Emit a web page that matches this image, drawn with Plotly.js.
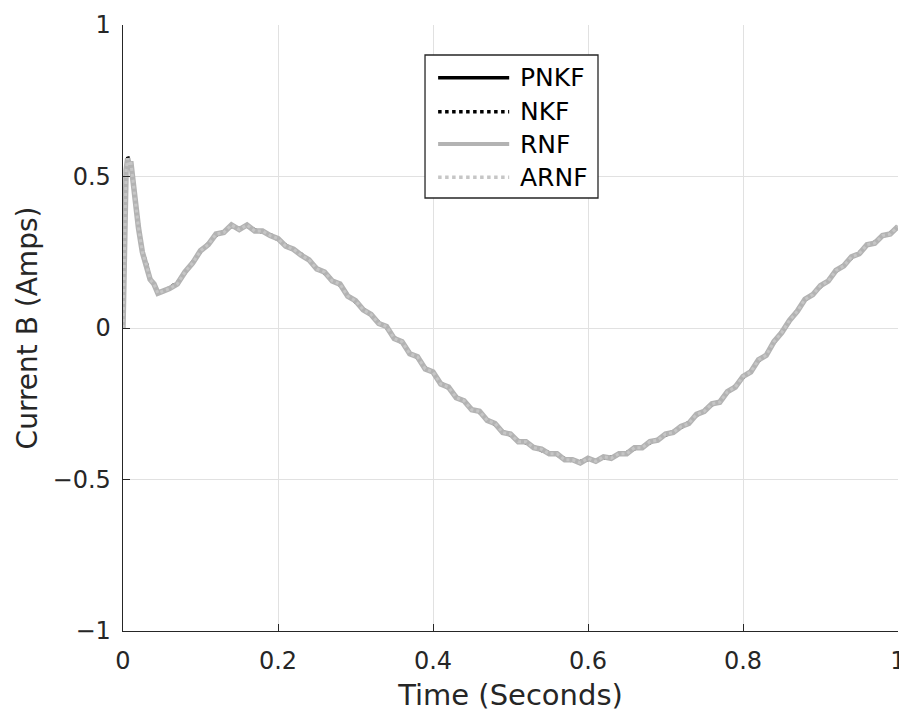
<!DOCTYPE html>
<html>
<head>
<meta charset="utf-8">
<script src="https://cdn.plot.ly/plotly-3.0.1.min.js"></script>
<style>html,body{margin:0;padding:0;background:#fff;}#chart{width:899px;height:720px;}</style>
</head>
<body>
<div id="chart"></div>
<script>
const timeSec = [0,0.002,0.004,0.006,0.008,0.01,0.015,0.02,0.025,0.03,0.035,0.04,0.045,0.05,0.055,0.06,
0.07,0.08,0.09,0.10,0.11,0.12,0.13,0.14,0.15,0.16,0.17,0.18,0.19,0.20,
0.21,0.22,0.23,0.24,0.25,0.26,0.27,0.28,0.29,0.30,0.31,0.32,0.33,0.34,0.35,0.36,0.37,0.38,0.39,0.40,
0.41,0.42,0.43,0.44,0.45,0.46,0.47,0.48,0.49,0.50,0.51,0.52,0.53,0.54,0.55,0.56,0.57,0.58,0.59,0.60,
0.61,0.62,0.63,0.64,0.65,0.66,0.67,0.68,0.69,0.70,0.71,0.72,0.73,0.74,0.75,0.76,0.77,0.78,0.79,0.80,
0.81,0.82,0.83,0.84,0.85,0.86,0.87,0.88,0.89,0.90,0.91,0.92,0.93,0.94,0.95,0.96,0.97,0.98,0.99,1.00];

const rnf = [0.00,0.31,0.52,0.56,0.54,0.55,0.43,0.33,0.25,0.21,0.16,0.145,0.115,0.12,0.125,0.13,
0.145,0.185,0.215,0.255,0.275,0.31,0.315,0.34,0.325,0.34,0.32,0.32,0.305,0.295,
0.27,0.26,0.24,0.225,0.195,0.185,0.155,0.145,0.105,0.09,0.06,0.045,0.015,0.005,-0.035,-0.045,-0.085,-0.095,-0.135,-0.145,
-0.185,-0.195,-0.23,-0.24,-0.27,-0.275,-0.305,-0.315,-0.345,-0.35,-0.375,-0.375,-0.395,-0.40,-0.415,-0.415,-0.435,-0.435,-0.445,-0.43,
-0.44,-0.425,-0.43,-0.415,-0.415,-0.395,-0.395,-0.375,-0.37,-0.35,-0.345,-0.325,-0.315,-0.285,-0.275,-0.25,-0.245,-0.21,-0.195,-0.16,
-0.145,-0.105,-0.09,-0.045,-0.015,0.025,0.055,0.095,0.11,0.14,0.155,0.19,0.205,0.235,0.245,0.275,0.28,0.305,0.31,0.335];

const pnkf = rnf.slice();
const arnf = rnf.slice();
const nkf = [0.00,0.30,0.51,0.57,0.55,0.54,0.44,0.34,0.25,0.22,0.16,0.15,0.11,0.125,0.12,0.135,
0.15,0.18,0.22,0.25,0.28,0.305,0.32,0.335,0.33,0.335,0.325,0.315,0.31,0.29,
0.275,0.255,0.245,0.22,0.2,0.18,0.16,0.14,0.11,0.085,0.065,0.04,0.02,0.0,-0.03,-0.05,-0.08,-0.1,-0.13,-0.15,
-0.18,-0.2,-0.225,-0.245,-0.265,-0.28,-0.3,-0.32,-0.34,-0.355,-0.37,-0.38,-0.39,-0.405,-0.41,-0.42,-0.43,-0.44,-0.44,-0.435,
-0.435,-0.43,-0.425,-0.42,-0.41,-0.4,-0.39,-0.38,-0.365,-0.355,-0.34,-0.33,-0.31,-0.29,-0.27,-0.255,-0.24,-0.215,-0.19,-0.165,
-0.14,-0.11,-0.085,-0.05,-0.01,0.02,0.06,0.09,0.115,0.135,0.16,0.185,0.21,0.23,0.25,0.27,0.285,0.3,0.315,0.33];

const seriesNames = ['PNKF','NKF','RNF','ARNF'];
const xTicks = [0,0.2,0.4,0.6,0.8,1];
const xTickText = ['0','0.2','0.4','0.6','0.8','1'];
const yTicks = [-1,-0.5,0,0.5,1];
const yTickText = ['\u22121','\u22120.5','0','0.5','1'];

const FONT = '"DejaVu Sans", sans-serif';
const TXT = '#262626';

const styles = [
  {color: '#000000', width: 3, dash: 'solid'},
  {color: '#000000', width: 3, dash: 'dot'},
  {color: '#b3b3b3', width: 5.5, dash: 'solid'},
  {color: '#c6c6c6', width: 3, dash: 'dot'}
];
const seriesData = [pnkf, nkf, rnf, arnf];

const traces = seriesData.map((yv, i) => ({
  x: timeSec, y: yv, name: seriesNames[i], mode: 'lines',
  line: {color: styles[i].color, width: styles[i].width, dash: styles[i].dash},
  showlegend: false
}));

// manual legend (box, line samples, labels) in paper coordinates
const legX0 = 0.3897, legX1 = 0.6129, legY0 = 0.7145, legY1 = 0.9505;
const rowY = [0.913, 0.857, 0.8036, 0.7487];
const shapes = [{type: 'rect', xref: 'paper', yref: 'paper', x0: legX0, x1: legX1, y0: legY0, y1: legY1,
  line: {color: '#262626', width: 1.3}, fillcolor: '#ffffff', layer: 'above'}];
const annotations = [];
seriesNames.forEach((n, i) => {
  shapes.push({type: 'line', xref: 'paper', yref: 'paper', x0: 0.4066, x1: 0.4983, y0: rowY[i], y1: rowY[i],
    line: {color: styles[i].color, width: i === 2 ? 4 : 3.5, dash: styles[i].dash}, layer: 'above'});
  annotations.push({xref: 'paper', yref: 'paper', x: 0.5093, y: rowY[i], xanchor: 'left', yanchor: 'middle',
    text: n, showarrow: false, font: {family: FONT, size: 25, color: '#000'}});
});

const layout = {
  width: 899, height: 720,
  margin: {l: 123, r: 1, t: 25, b: 89},
  paper_bgcolor: '#ffffff', plot_bgcolor: '#ffffff',
  font: {family: FONT, color: TXT, size: 24},
  showlegend: false,
  shapes: shapes,
  annotations: annotations,
  xaxis: {
    range: [0, 1], tickvals: xTicks, ticktext: xTickText,
    showgrid: true, gridcolor: '#e1e1e1', gridwidth: 1,
    zeroline: false, showline: true, linecolor: '#262626', linewidth: 1.3,
    ticks: 'inside', ticklen: 7, tickcolor: '#262626',
    ticklabeloverflow: 'allow', ticklabelstandoff: 8,
    tickfont: {family: FONT, size: 24, color: TXT},
    title: {text: 'Time (Seconds)', font: {family: FONT, size: 29, color: TXT}, standoff: 10}
  },
  yaxis: {
    range: [-1, 1], tickvals: yTicks, ticktext: yTickText,
    showgrid: true, gridcolor: '#e1e1e1', gridwidth: 1,
    zeroline: false, showline: true, linecolor: '#262626', linewidth: 1.3,
    ticks: 'inside', ticklen: 7, tickcolor: '#262626',
    ticklabelstandoff: 6,
    tickfont: {family: FONT, size: 24, color: TXT},
    title: {text: 'Current B (Amps)', font: {family: FONT, size: 28, color: TXT}, standoff: 6}
  }
};

Plotly.newPlot('chart', traces, layout, {displayModeBar: false, staticPlot: true});
</script>
</body>
</html>
